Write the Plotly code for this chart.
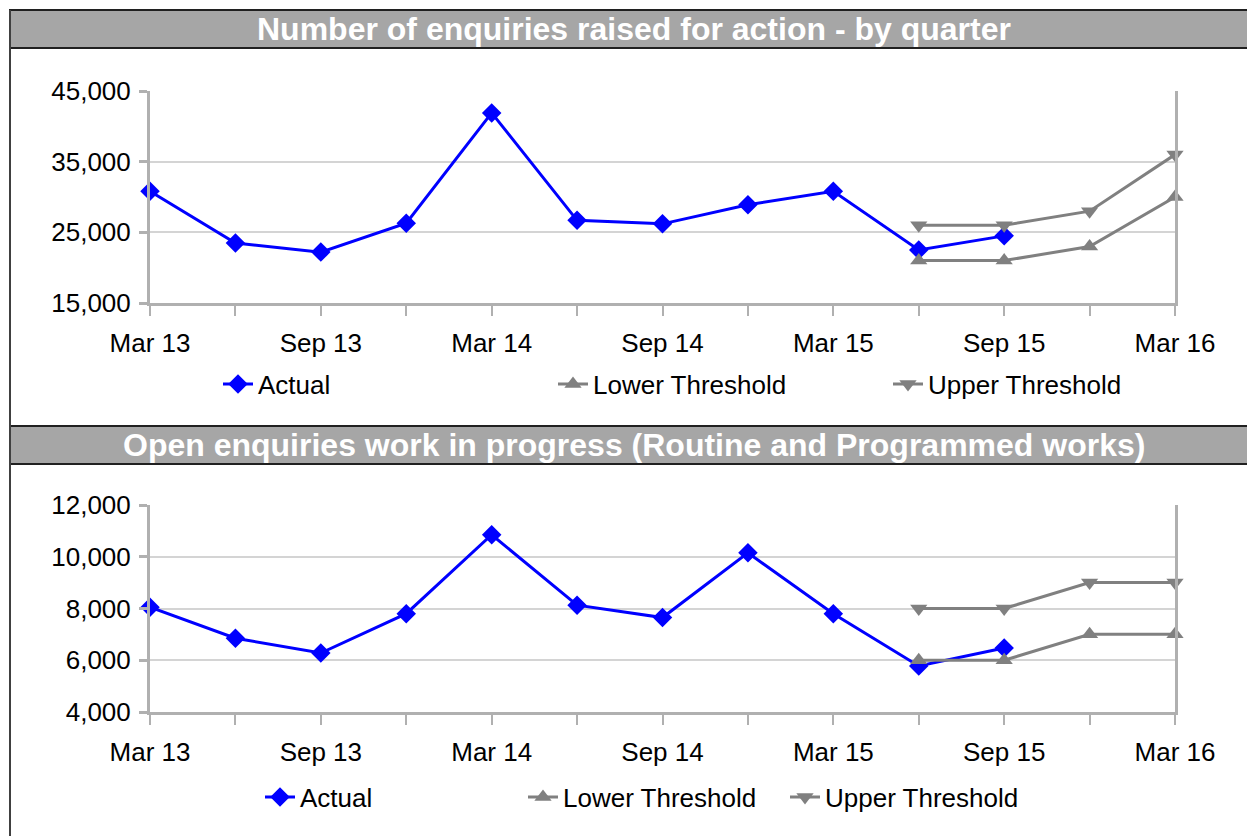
import plotly.graph_objects as go

W, H = 1255, 836
OFF = 8  # page body margin

quarters = ["Mar 13", "Jun 13", "Sep 13", "Dec 13", "Mar 14", "Jun 14", "Sep 14",
            "Dec 14", "Mar 15", "Jun 15", "Sep 15", "Dec 15", "Mar 16"]
tick_labels = [q if i % 2 == 0 else "" for i, q in enumerate(quarters)]
threshold_quarters = ["Jun 15", "Sep 15", "Dec 15", "Mar 16"]

raised_actual = [30800, 23500, 22200, 26300, 41900, 26700, 26200, 28900, 30800, 22500, 24500]
raised_lower = [21000, 21000, 23000, 30000]
raised_upper = [26000, 26000, 28000, 36000]

open_actual = [8050, 6850, 6280, 7800, 10850, 8130, 7650, 10150, 7800, 5780, 6470]
open_lower = [6000, 6000, 7000, 7000]
open_upper = [8000, 8000, 9000, 9000]

titles = ["Number of enquiries raised for action - by quarter",
          "Open enquiries work in progress (Routine and Programmed works)"]

FONT = "Liberation Sans, Arial, sans-serif"
BLUE = "#0000ff"
GREY = "#808080"
FS = 26


def px_x(v):
    return (v - OFF) / W


def px_y(v):
    return 1 - (v - OFF) / H


fig = go.Figure()

panels = [
    dict(actual=raised_actual, lower=raised_lower, upper=raised_upper,
         xa="x", ya="y", legs=("legend", "legend2", "legend3")),
    dict(actual=open_actual, lower=open_lower, upper=open_upper,
         xa="x2", ya="y2", legs=("legend4", "legend5", "legend6")),
]

for p in panels:
    fig.add_trace(go.Scatter(
        x=quarters[:len(p["actual"])], y=p["actual"], name="Actual", mode="lines+markers",
        line=dict(color=BLUE, width=3), marker=dict(symbol="diamond", size=15, color=BLUE),
        xaxis=p["xa"], yaxis=p["ya"], legend=p["legs"][0], cliponaxis=False))
    fig.add_trace(go.Scatter(
        x=threshold_quarters, y=p["lower"], name="Lower Threshold", mode="lines+markers",
        line=dict(color=GREY, width=3), marker=dict(symbol="triangle-up", size=15, color=GREY),
        xaxis=p["xa"], yaxis=p["ya"], legend=p["legs"][1], cliponaxis=False))
    fig.add_trace(go.Scatter(
        x=threshold_quarters, y=p["upper"], name="Upper Threshold", mode="lines+markers",
        line=dict(color=GREY, width=3), marker=dict(symbol="triangle-down", size=15, color=GREY),
        xaxis=p["xa"], yaxis=p["ya"], legend=p["legs"][2], cliponaxis=False))

xdom = [px_x(150), px_x(1175)]
xaxis_common = dict(
    type="category", categoryorder="array", categoryarray=quarters,
    range=[0, 12], domain=xdom, automargin=False,
    tickmode="array", tickvals=quarters, ticktext=tick_labels,
    ticks="outside", ticklen=10, tickwidth=1.5, tickcolor="#b0b0b0",
    showline=True, linecolor="#b0b0b0", linewidth=3, mirror=False,
    showgrid=False, zeroline=False, ticklabelstandoff=5,
    tickfont=dict(family=FONT, size=FS, color="black"),
)
yaxis_common = dict(
    ticks="outside", ticklen=8, tickwidth=3, tickcolor="#b0b0b0", automargin=False,
    showline=True, linecolor="#b0b0b0", linewidth=3, mirror=True,
    showgrid=True, gridcolor="#d4d4d4", gridwidth=2, zeroline=False,
    tickformat=",", ticklabelstandoff=3,
    tickfont=dict(family=FONT, size=FS, color="black"),
)

fig.update_layout(
    xaxis=dict(**xaxis_common, anchor="y"),
    yaxis=dict(**yaxis_common, domain=[px_y(303), px_y(91)], range=[15000, 45000],
               tickvals=[15000, 25000, 35000, 45000], anchor="x"),
    xaxis2=dict(**xaxis_common, anchor="y2"),
    yaxis2=dict(**yaxis_common, domain=[px_y(712), px_y(505)], range=[4000, 12000],
                tickvals=[4000, 6000, 8000, 10000, 12000], anchor="x2"),
)

leg_style = dict(orientation="h", xanchor="left", yanchor="middle", bgcolor="rgba(0,0,0,0)",
                 font=dict(family=FONT, size=FS, color="black"), itemwidth=30)
leg_pos = {
    "legend": (218, 384), "legend2": (553, 384), "legend3": (888, 384),
    "legend4": (260, 797), "legend5": (523, 797), "legend6": (785, 797),
}
for name, (lx, ly) in leg_pos.items():
    fig.update_layout({name: dict(**leg_style, x=px_x(lx), y=px_y(ly))})

shapes = []
for top, bot in [(10, 48), (426, 464)]:
    shapes.append(dict(type="rect", xref="paper", yref="paper",
                       x0=px_x(10), x1=px_x(1280), y0=px_y(bot), y1=px_y(top),
                       fillcolor="#a6a6a6", line=dict(color="#202020", width=2), layer="below"))
shapes.append(dict(type="line", xref="paper", yref="paper",
                   x0=px_x(10), x1=px_x(10), y0=px_y(10), y1=px_y(850),
                   line=dict(color="#404040", width=2)))
fig.update_layout(shapes=shapes)

annotations = []
for t, cy in zip(titles, [29, 445]):
    annotations.append(dict(text=t, xref="paper", yref="paper", x=px_x(634), y=px_y(cy),
                            xanchor="center", yanchor="middle", showarrow=False,
                            font=dict(family=FONT, size=32, color="white", weight="bold")))
fig.update_layout(annotations=annotations)

fig.update_layout(
    width=W, height=H, margin=dict(l=0, r=0, t=0, b=0, autoexpand=False),
    paper_bgcolor="white", plot_bgcolor="white", showlegend=True,
)

fig.write_html("out.html")
